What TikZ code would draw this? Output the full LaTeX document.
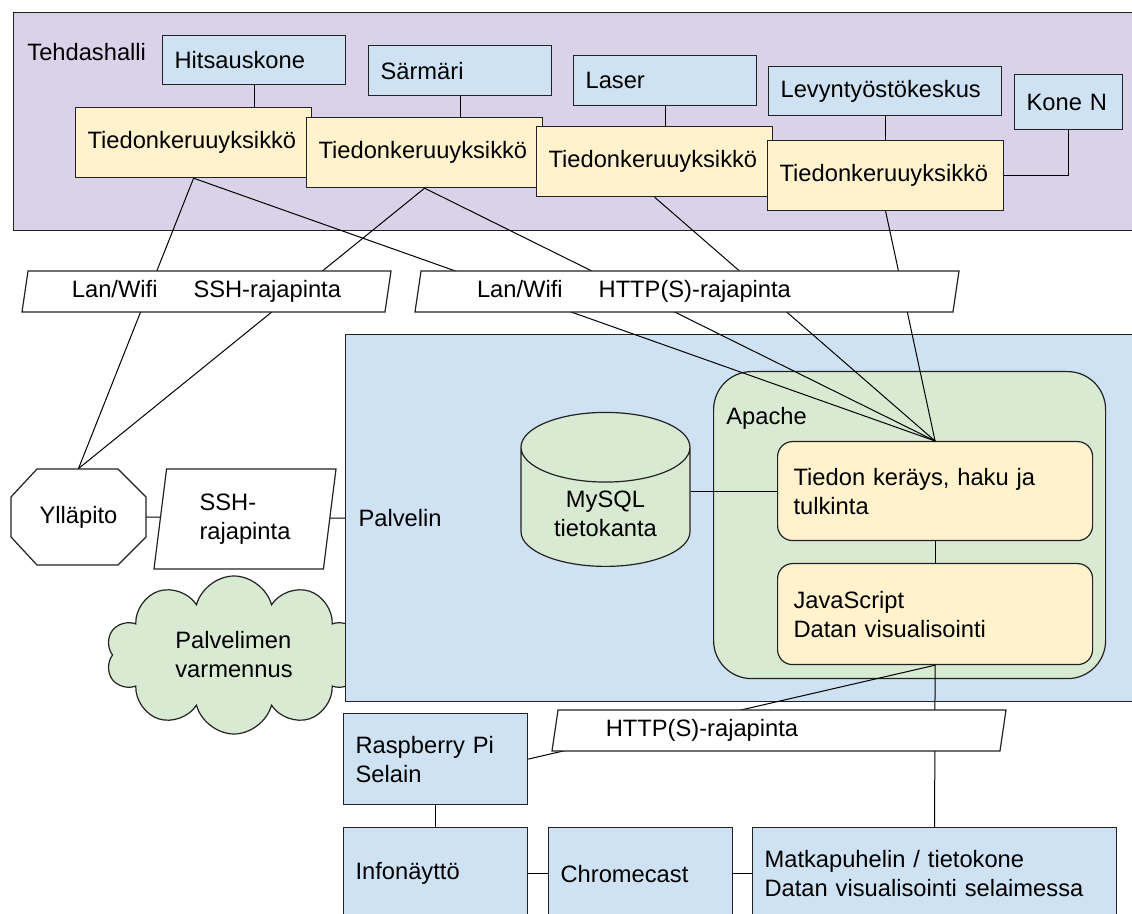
\documentclass[tikz,border=0pt]{standalone}
\usepackage{fontspec}
\setmainfont{Liberation Sans}
\usepackage{xcolor}
\usetikzlibrary{shapes.geometric,shapes.symbols,positioning}

\definecolor{hallfill}{HTML}{D9D2E9}
\definecolor{bluefill}{HTML}{CFE2F3}
\definecolor{unitfill}{HTML}{FFF2CC}
\definecolor{greenfill}{HTML}{D9EAD3}
\definecolor{edge}{HTML}{222222}

\tikzset{
  framed/.style={draw=edge, line width=0.6pt},
  hwbox/.style={framed, anchor=north west, inner xsep=6pt, align=left},
  machine/.style={hwbox, fill=bluefill},
  collector/.style={hwbox, fill=unitfill, text width=106pt, minimum height=35pt},
  device/.style={hwbox, fill=bluefill, text width=80pt},
  module/.style={framed, fill=unitfill, anchor=north west, rounded corners=7.5pt,
    inner xsep=8pt, text width=141.5pt, align=left},
  iface/.style={framed, trapezium, trapezium left angle=77, trapezium right angle=103,
    trapezium stretches body=true, fill=white, inner ysep=1pt},
  link/.style={line width=0.5pt},
}

\begin{document}
\begin{tikzpicture}[x=0.5pt, y=-0.5pt, font=\fontsize{11.85pt}{14.5pt}\selectfont]
    \useasboundingbox (0,0) rectangle (1132,914);
    \fill[white] (0,0) rectangle (1132,914);
    \clip (0,0) rectangle (1132,914);

    % Tehdashalli
    \node[framed, fill=hallfill, anchor=north west, minimum width=568.5pt, minimum height=109pt] (hall) at (13,12) {};
    \node[anchor=west, inner sep=0pt] (halltitle) at (27,52) {Tehdashalli};
    \foreach \name/\x/\y/\tw/\h/\txt in {hits/162/35/79.5/24.5/Hitsauskone, sarm/368/45/79.5/25/Särmäri,
        laser/573/55/79.5/25/Laser, levy/768/66/104.5/24.5/Levyntyöstökeskus, konen/1014/74/42/27.5/Kone N} {
        \node[machine, text width=\tw pt, minimum height=\h pt] (\name) at (\x,\y) {\txt};
    }
    \foreach \m/\u/\ux/\uy in {hits/tk1/75/107, sarm/tk2/306/117, laser/tk3/536/126, levy/tk4/767/140} {
        % data collector under each machine
        \node[collector] (\u) at (\ux,\uy) {Tiedonkeruuyksikkö};
        \draw[link] (\m.south) -- (\m.south |- \u.north);
    }
    \draw[link] (konen.south) |- (tk4.east);

    % Palvelin
    \node[framed, fill=greenfill, cloud, cloud puffs=10, aspect=1.6, minimum width=128pt, minimum height=79pt, align=left] (varmennus) at (234,655) {Palvelimen\\varmennus};
    \node[framed, fill=bluefill, anchor=north west, minimum width=402.5pt, minimum height=183.5pt,
        inner xsep=6.5pt, text width=389.5pt, align=left] (palvelin) at (345,334) {Palvelin};
    \node[framed, fill=greenfill, anchor=north west, rounded corners=19pt, minimum width=196pt, minimum height=153.5pt] (apache) at (713,371) {};
    \node[anchor=west, inner sep=0pt] (apachetitle) at ([shift={(6.5pt,-23.5pt)}]apache.north west) {Apache};
    \node[module, minimum height=49.5pt] (tiedon) at (777,441) {Tiedon keräys, haku ja\\tulkinta};
    \node[module, minimum height=50.5pt] (js) at (777,563) {JavaScript\\Datan visualisointi};
    \node[framed, fill=greenfill, cylinder, shape border rotate=90, aspect=0.6, minimum width=84.5pt, minimum height=77pt, align=center, anchor=south] (mysql) at (605.5,567) {MySQL\\tietokanta};

    % Yllapito
    \draw[framed, fill=white] (37,469) -- (118,469) -- (146,497) -- (146,537) -- (118,565) -- (37,565) -- (11,537) -- (11,497) -- cycle;
    \node[minimum width=67.5pt, minimum height=48pt] (yll) at (78.5,517) {Ylläpito};

    % Selaimet
    \node[device, minimum height=45.5pt] (rasp) at (343,713) {Raspberry Pi\\Selain};
    \node[device, minimum height=46pt] (info) at (343,827) {Infonäyttö};
    \node[device, minimum height=46pt] (chrome) at (548,827) {Chromecast};
    \node[device, minimum height=46pt, text width=170pt] (matka) at (752,827) {Matkapuhelin / tietokone\\Datan visualisointi selaimessa};

    % connections
    \foreach \u in {tk1, tk2} {
        \draw[link] (\u.south) -- (yll.north);
    }
    \foreach \u in {tk1, tk2, tk3, tk4} {
        \draw[link] (\u.south) -- (tiedon.north);
    }
    \draw[link] (yll.east) -- (palvelin.west);
    \draw[link] (mysql.east |- tiedon.west) -- (tiedon.west);
    \draw[link] (tiedon.south) -- (js.north);
    \draw[link] (js.south) -- (matka.north);
    \draw[link] (js.south) -- (rasp.east);
    \draw[link] (rasp.south) -- (info.north);
    \draw[link] (info.east) -- (chrome.west);
    \draw[link] (chrome.east) -- (matka.west);

    % rajapinnat
    \node[iface, minimum width=184.5pt, minimum height=20.5pt] (lanssh) at (206.5,291.5) {Lan/Wifi\hspace{18pt}SSH-rajapinta};
    \node[iface, minimum width=272pt, minimum height=20.5pt] (lanhttp) at (687,291.5) {Lan/Wifi\hspace{18pt}HTTP(S)-rajapinta\hspace*{53pt}};
    \node[iface, minimum width=91pt, minimum height=50pt, align=left] (sshapi) at (245,519) {SSH-\\rajapinta};
    \node[iface, minimum width=227pt, minimum height=20.5pt] (httpapi) at (779,730.5) {HTTP(S)-rajapinta\hspace*{77pt}};
\end{tikzpicture}
\end{document}
